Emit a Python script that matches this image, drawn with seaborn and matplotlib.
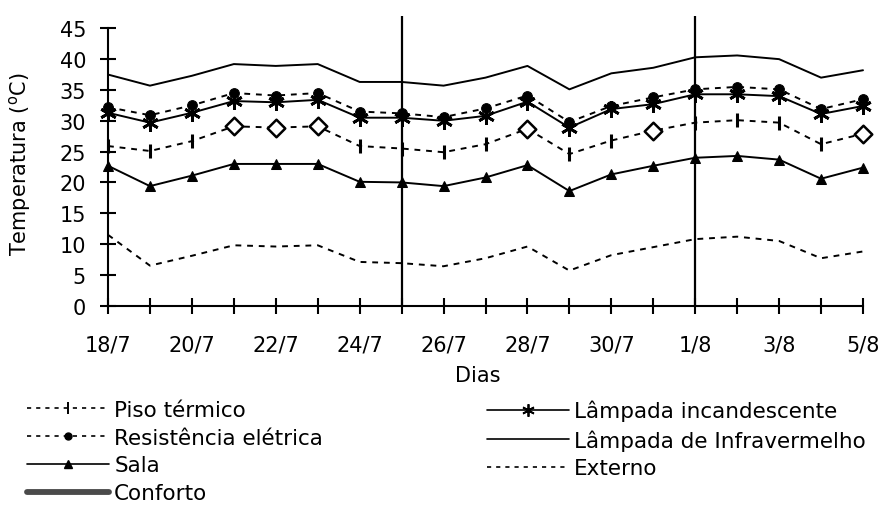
import numpy as np
import pandas as pd
import matplotlib
matplotlib.use("Agg")
import matplotlib.pyplot as plt
import seaborn as sns
from matplotlib.lines import Line2D

# ---------------- data ----------------
dias = ["18/7", "19/7", "20/7", "21/7", "22/7", "23/7", "24/7", "25/7", "26/7", "27/7",
        "28/7", "29/7", "30/7", "31/7", "1/8", "2/8", "3/8", "4/8", "5/8"]
infravermelho = [37.5, 35.7, 37.3, 39.2, 38.9, 39.2, 36.3, 36.3, 35.7, 37.0,
                 38.9, 35.1, 37.7, 38.6, 40.3, 40.6, 40.0, 37.0, 38.2]
incandescente = [31.3, 29.7, 31.3, 33.2, 33.0, 33.4, 30.5, 30.5, 30.0, 30.8,
                 33.1, 28.9, 31.9, 32.7, 34.3, 34.3, 34.0, 31.1, 32.4]
resistencia = [32.2, 30.9, 32.5, 34.5, 34.1, 34.5, 31.5, 31.2, 30.6, 32.0,
               34.1, 29.8, 32.4, 33.8, 35.1, 35.5, 35.1, 31.9, 33.5]
piso = [25.9, 25.1, 26.7, 29.1, 28.9, 29.1, 25.9, 25.5, 24.9, 26.2,
        28.7, 24.6, 26.8, 28.4, 29.7, 30.1, 29.7, 26.2, 27.9]
piso_diamantes = [3, 4, 5, 10, 13, 18]
sala = [22.7, 19.4, 21.1, 23.0, 23.0, 23.0, 20.1, 20.0, 19.4, 20.8,
        22.8, 18.6, 21.3, 22.7, 24.0, 24.3, 23.7, 20.6, 22.4]
externo = [11.5, 6.5, 8.1, 9.8, 9.6, 9.8, 7.1, 6.9, 6.4, 7.7,
           9.6, 5.7, 8.2, 9.5, 10.8, 11.2, 10.5, 7.7, 8.8]
linhas_verticais = ["25/7", "1/8"]
yticks = [0, 5, 10, 15, 20, 25, 30, 35, 40, 45]

# ---------------- style ----------------
sns.set_style("ticks")
plt.rcParams["font.family"] = ["DejaVu Sans"]
plt.rcParams["mathtext.fontset"] = "dejavusans"
plt.rcParams["text.color"] = "black"
plt.rcParams["axes.labelcolor"] = "black"
plt.rcParams["xtick.color"] = "black"
plt.rcParams["ytick.color"] = "black"

FS = 15
FSL = 15.5
fig = plt.figure(figsize=(8.82, 5.10), dpi=100)
W, H = 882, 510
x0, x1, yb, yt = 108, 863, 306.7, 17
ax = fig.add_axes([x0 / W, 1 - yb / H, (x1 - x0) / W, (yb - yt) / H])

x = np.arange(len(dias))
df = pd.DataFrame({"x": x, "infra": infravermelho, "inc": incandescente,
                   "res": resistencia, "piso": piso, "sala": sala, "ext": externo})

lw = 1.4
dash = (0, (3.0, 3.0))
common = dict(ax=ax, color="black", linewidth=lw, clip_on=False, legend=False)

sns.lineplot(data=df, x="x", y="ext", linestyle=dash, **common)
sns.lineplot(data=df, x="x", y="sala", marker="^", markersize=7.5, mfc="black",
             mec="black", **common)
sns.lineplot(data=df, x="x", y="piso", linestyle=dash, marker="|", markersize=10,
             mew=2.2, mec="black", **common)
dd = df.iloc[piso_diamantes]
sns.scatterplot(data=dd, x="x", y="piso", ax=ax, marker="D", s=80, facecolor="white",
                edgecolor="black", linewidth=1.8, zorder=4, clip_on=False, legend=False)
sns.lineplot(data=df, x="x", y="infra", **common)
sns.lineplot(data=df, x="x", y="res", linestyle=dash, marker="o", markersize=7,
             mfc="black", mec="black", **common)
sns.lineplot(data=df, x="x", y="inc", marker=(6, 2, 0), markersize=12, mew=2.0,
             mec="black", **common)

for d in linhas_verticais:
    ax.axvline(dias.index(d), ymin=0, ymax=1, color="black", linewidth=1.6, zorder=5)

# ---------------- axes ----------------
ax.set_xlim(0, len(dias) - 1)
ax.set_ylim(0, 47)
ax.set_xticks(x)
ax.set_xticklabels([d if i % 2 == 0 else "" for i, d in enumerate(dias)])
ax.set_yticks(yticks)
ax.set_xlabel("")
ax.set_ylabel("")
for s in ["top", "right"]:
    ax.spines[s].set_visible(False)
ax.spines["left"].set_bounds(0, 45)
ax.spines["left"].set_linewidth(1.5)
ax.spines["bottom"].set_linewidth(1.5)
ax.spines["left"].set_color("black")
ax.spines["bottom"].set_color("black")
ax.tick_params(axis="both", direction="inout", length=11.5, width=1.5,
               labelsize=FS, colors="black")
ax.tick_params(axis="x", pad=15)
ax.tick_params(axis="y", pad=10)

fig.text(20 / W, 1 - 164 / H, "Temperatura ($^{\\mathrm{o}}$C)", rotation=90,
         ha="center", va="center", fontsize=15, color="black")
fig.text(478 / W, 1 - 376 / H, "Dias", ha="center", va="center", fontsize=FS,
         color="black")

# ---------------- legend ----------------
dsh = (0, (2.5, 3.0))
lwl = 1.2
h_piso = Line2D([], [], color="black", lw=lwl, linestyle=dsh, marker="|",
                markersize=9, mew=1.4)
h_res = Line2D([], [], color="black", lw=lwl, linestyle=dsh, marker="o",
               markersize=5)
h_sala = Line2D([], [], color="black", lw=lwl, marker="^", markersize=6)
h_conf = Line2D([], [], color="#4a4a4a", lw=4.2)
h_inc = Line2D([], [], color="black", lw=lwl, marker=(6, 2, 0), markersize=9, mew=1.3)
h_inf = Line2D([], [], color="black", lw=lwl)
h_ext = Line2D([], [], color="black", lw=lwl, linestyle=dsh)

leg_kw = dict(frameon=False, fontsize=FSL, handlelength=3.8, handletextpad=0.25,
              labelspacing=0.36, borderpad=0, borderaxespad=0, loc="upper left")
leg1 = fig.legend([h_piso, h_res, h_sala, h_conf],
                  ["Piso térmico", "Resistência elétrica", "Sala", "Conforto"],
                  bbox_to_anchor=(27 / W, 1 - 401 / H), **leg_kw)
leg2 = fig.legend([h_inc, h_inf, h_ext],
                  ["Lâmpada incandescente", "Lâmpada de Infravermelho", "Externo"],
                  bbox_to_anchor=(487 / W, 1 - 401 / H), **leg_kw)
for lg in (leg1, leg2):
    for t in lg.get_texts():
        t.set_color("black")

fig.savefig("out.png", dpi=100)
